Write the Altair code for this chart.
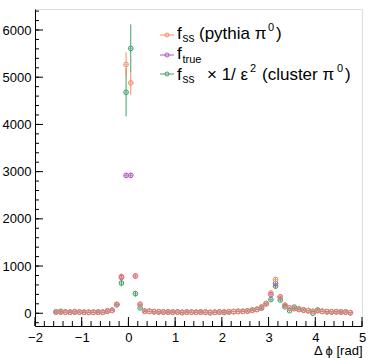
import altair as alt
import pandas as pd
import numpy as np

# ---------------- data ----------------
x_centers = [-1.55, -1.45, -1.35, -1.25, -1.15, -1.05, -0.95, -0.85, -0.75, -0.65,
             -0.55, -0.45, -0.35, -0.25, -0.15, -0.05,
             0.05, 0.15, 0.25, 0.35, 0.45, 0.55, 0.65, 0.75, 0.85, 0.95,
             1.05, 1.15, 1.25, 1.35, 1.45, 1.55, 1.65, 1.75, 1.85, 1.95,
             2.05, 2.15, 2.25, 2.35, 2.45, 2.55, 2.65, 2.75, 2.85, 2.95,
             3.05, 3.15, 3.25, 3.35, 3.45, 3.55, 3.65, 3.75, 3.85, 3.95,
             4.05, 4.15, 4.25, 4.35, 4.45, 4.55, 4.65, 4.75]

f_true = [25, 25, 22, 22, 28, 25, 22, 20, 22, 25, 22, 50, 65, 185, 760, 2920,
          2920, 790, 190, 45, 40, 35, 30, 28, 25, 25,
          25, 20, 22, 22, 20, 25, 22, 18, 20, 28,
          25, 30, 35, 38, 40, 42, 60, 80, 130, 205,
          395, 630, 345, 170, 110, 100, 80, 65, 55, 40,
          55, 40, 35, 30, 30, 28, 25, 12]

f_ss = [25, 25, 22, 22, 38, 25, 22, 20, 22, 25, 22, 50, 62, 190, 780, 5270,
        4880, 790, 190, 45, 40, 35, 30, 28, 25, 25,
        25, 20, 22, 20, 20, 25, 22, 18, 20, 28,
        25, 30, 35, 38, 40, 42, 60, 80, 130, 205,
        430, 715, 345, 170, 110, 100, 80, 65, 55, 40,
        55, 40, 35, 30, 30, 28, 25, 12]

f_ss_eff = [28, 40, 25, 22, 30, 25, 20, 20, 20, 25, 18, 40, 60, 180, 640, 4680,
            5610, 415, 112, 40, 40, 30, 30, 25, 25, 22,
            25, 12, 25, 22, 20, 25, 20, 10, 20, 25,
            15, 30, 35, 40, 40, 50, 70, 85, 110, 200,
            290, 575, 280, 135, 55, 130, 90, 70, 55, 0,
            70, 40, 30, 30, 35, 25, 25, 12]

err_true = [8, 8, 8, 8, 8, 8, 8, 8, 8, 8, 8, 10, 10, 15, 30, 55,
            55, 30, 15, 10, 8, 8, 8, 8, 8, 8,
            8, 8, 8, 8, 8, 8, 8, 8, 8, 8,
            8, 8, 8, 8, 8, 8, 10, 10, 12, 15,
            20, 25, 20, 15, 10, 10, 10, 8, 8, 8,
            8, 8, 8, 8, 8, 8, 8, 8]

err_ss = [15, 15, 15, 15, 15, 15, 15, 15, 15, 15, 15, 15, 15, 25, 60, 260,
          250, 60, 25, 15, 15, 15, 15, 15, 15, 15,
          15, 15, 15, 15, 15, 15, 15, 15, 15, 15,
          15, 15, 15, 15, 15, 15, 15, 15, 20, 25,
          45, 50, 35, 25, 15, 15, 15, 15, 15, 15,
          15, 15, 15, 15, 15, 15, 15, 15]

err_eff = [20, 20, 20, 20, 20, 20, 20, 20, 20, 20, 20, 20, 20, 30, 70, 510,
           510, 60, 30, 20, 20, 20, 20, 20, 20, 20,
           20, 20, 20, 20, 20, 20, 20, 20, 20, 20,
           20, 20, 20, 20, 20, 20, 20, 20, 20, 30,
           40, 55, 40, 30, 20, 20, 20, 20, 20, 20,
           20, 20, 20, 20, 20, 20, 20, 20]

bin_half = 0.05
series_names = ["true", "ss", "eff"]
series_colors = ["#b84fc4", "#f48c62", "#3fa066"]

x_major = [-2, -1, 0, 1, 2, 3, 4, 5]
y_major = [0, 1000, 2000, 3000, 4000, 5000, 6000]
x_minor = [round(v, 1) for v in np.arange(-2.0, 5.01, 0.2)]
y_minor = list(range(-200, 6401, 200))

# ---------------- build table ----------------
rows = []
for name, vals, errs in [("eff", f_ss_eff, err_eff), ("true", f_true, err_true), ("ss", f_ss, err_ss)]:
    for xc, v, e in zip(x_centers, vals, errs):
        rows.append({"series": name, "x": xc, "y": v, "lo": v - e, "hi": v + e,
                     "xlo": xc - bin_half, "xhi": xc + bin_half})
df = pd.DataFrame(rows)

W, H = 327, 317
FONT = "Liberation Sans"

xscale = alt.Scale(domain=[-2, 5], nice=False, zero=False)
yscale = alt.Scale(domain=[-270, 6445], nice=False, zero=False)
xaxis = alt.Axis(values=x_major, format="d", title="Δ ϕ [rad]", titleAnchor="end",
                 titleFont=FONT, titleFontSize=13, titleFontWeight="normal", titleColor="black",
                 titlePadding=0, labelFont=FONT, labelFontSize=13, labelColor="black",
                 labelPadding=5, tickSize=0, grid=False, domainColor="black",
                 labelFlush=False, labelOverlap=False)
yaxis = alt.Axis(values=y_major, format="d", title=None, labelFont=FONT, labelFontSize=13,
                 labelColor="black", labelPadding=4, tickSize=0, grid=False,
                 domainColor="black", labelFlush=False, labelOverlap=False)


def X(field):
    return alt.X(field, type="quantitative", scale=xscale, axis=xaxis)


def Y(field):
    return alt.Y(field, type="quantitative", scale=yscale, axis=yaxis)


color = alt.Color("series:N", scale=alt.Scale(domain=series_names, range=series_colors), legend=None)

base = alt.Chart(df)
vbars = base.mark_rule(strokeWidth=1).encode(x=X("x"), y=Y("lo"), y2="hi", color=color)
hbars = base.mark_rule(strokeWidth=0.6).encode(x=X("xlo"), x2="xhi", y=Y("y"), color=color)
points = base.mark_point(shape="circle", filled=False, size=22, strokeWidth=1, opacity=1).encode(
    x=X("x"), y=Y("y"), color=color)

# ticks (ROOT style, pointing inward)
ymaj = alt.Chart(pd.DataFrame({"v": y_major})).mark_rule(color="black", strokeWidth=1).encode(
    y=Y("v"), x=alt.value(0), x2=alt.value(8))
ymin = alt.Chart(pd.DataFrame({"v": y_minor})).mark_rule(color="black", strokeWidth=1).encode(
    y=Y("v"), x=alt.value(0), x2=alt.value(4))
xmaj = alt.Chart(pd.DataFrame({"v": x_major})).mark_rule(color="black", strokeWidth=1).encode(
    x=X("v"), y=alt.value(H), y2=alt.value(H - 9))
xmin = alt.Chart(pd.DataFrame({"v": x_minor})).mark_rule(color="black", strokeWidth=1).encode(
    x=X("v"), y=alt.value(H), y2=alt.value(H - 5))

# ---------------- legend ----------------
OX, OY = 35, 9
one = pd.DataFrame({"k": [0]})
legend_layers = []
for ly, col in zip([35, 55, 74], [series_colors[1], series_colors[0], series_colors[2]]):
    legend_layers.append(alt.Chart(one).mark_rule(color=col, strokeWidth=1).encode(
        x=alt.value(160 - OX), x2=alt.value(174 - OX), y=alt.value(ly - OY)))
    legend_layers.append(alt.Chart(one).mark_point(shape="circle", filled=False, size=16,
                                                    strokeWidth=1, color=col, opacity=1).encode(
        x=alt.value(167 - OX), y=alt.value(ly - OY)))

pieces = [
    ("f", 177, 39, 17), ("ss", 182.5, 42, 12), ("(pythia π", 199, 39, 17), ("0", 268, 31, 11), (")", 276, 39, 17),
    ("f", 177, 59, 17), ("true", 182.5, 63, 11),
    ("f", 177, 80, 17), ("ss", 182.5, 83, 12), ("× 1/ ε", 207, 80, 17), ("2", 250, 72, 11),
    ("(cluster π", 262, 80, 17), ("0", 337, 72, 11), (")", 345, 80, 17),
]
for t, px, py, fs in pieces:
    legend_layers.append(alt.Chart(one).mark_text(text=t, align="left", baseline="alphabetic",
                                                   font=FONT, fontSize=fs, color="black").encode(
        x=alt.value(px - OX), y=alt.value(py - OY)))

chart = alt.layer(vbars, hbars, points, ymin, ymaj, xmin, xmaj, *legend_layers).properties(
    width=W, height=H,
    autosize=alt.AutoSizeParams(type="none"),
    padding={"left": 35, "top": 9, "right": 8, "bottom": 32},
).configure_view(stroke="#999999", strokeWidth=1).configure(background="white")

chart.save("out.html", embed_options={"renderer": "svg", "actions": False})
